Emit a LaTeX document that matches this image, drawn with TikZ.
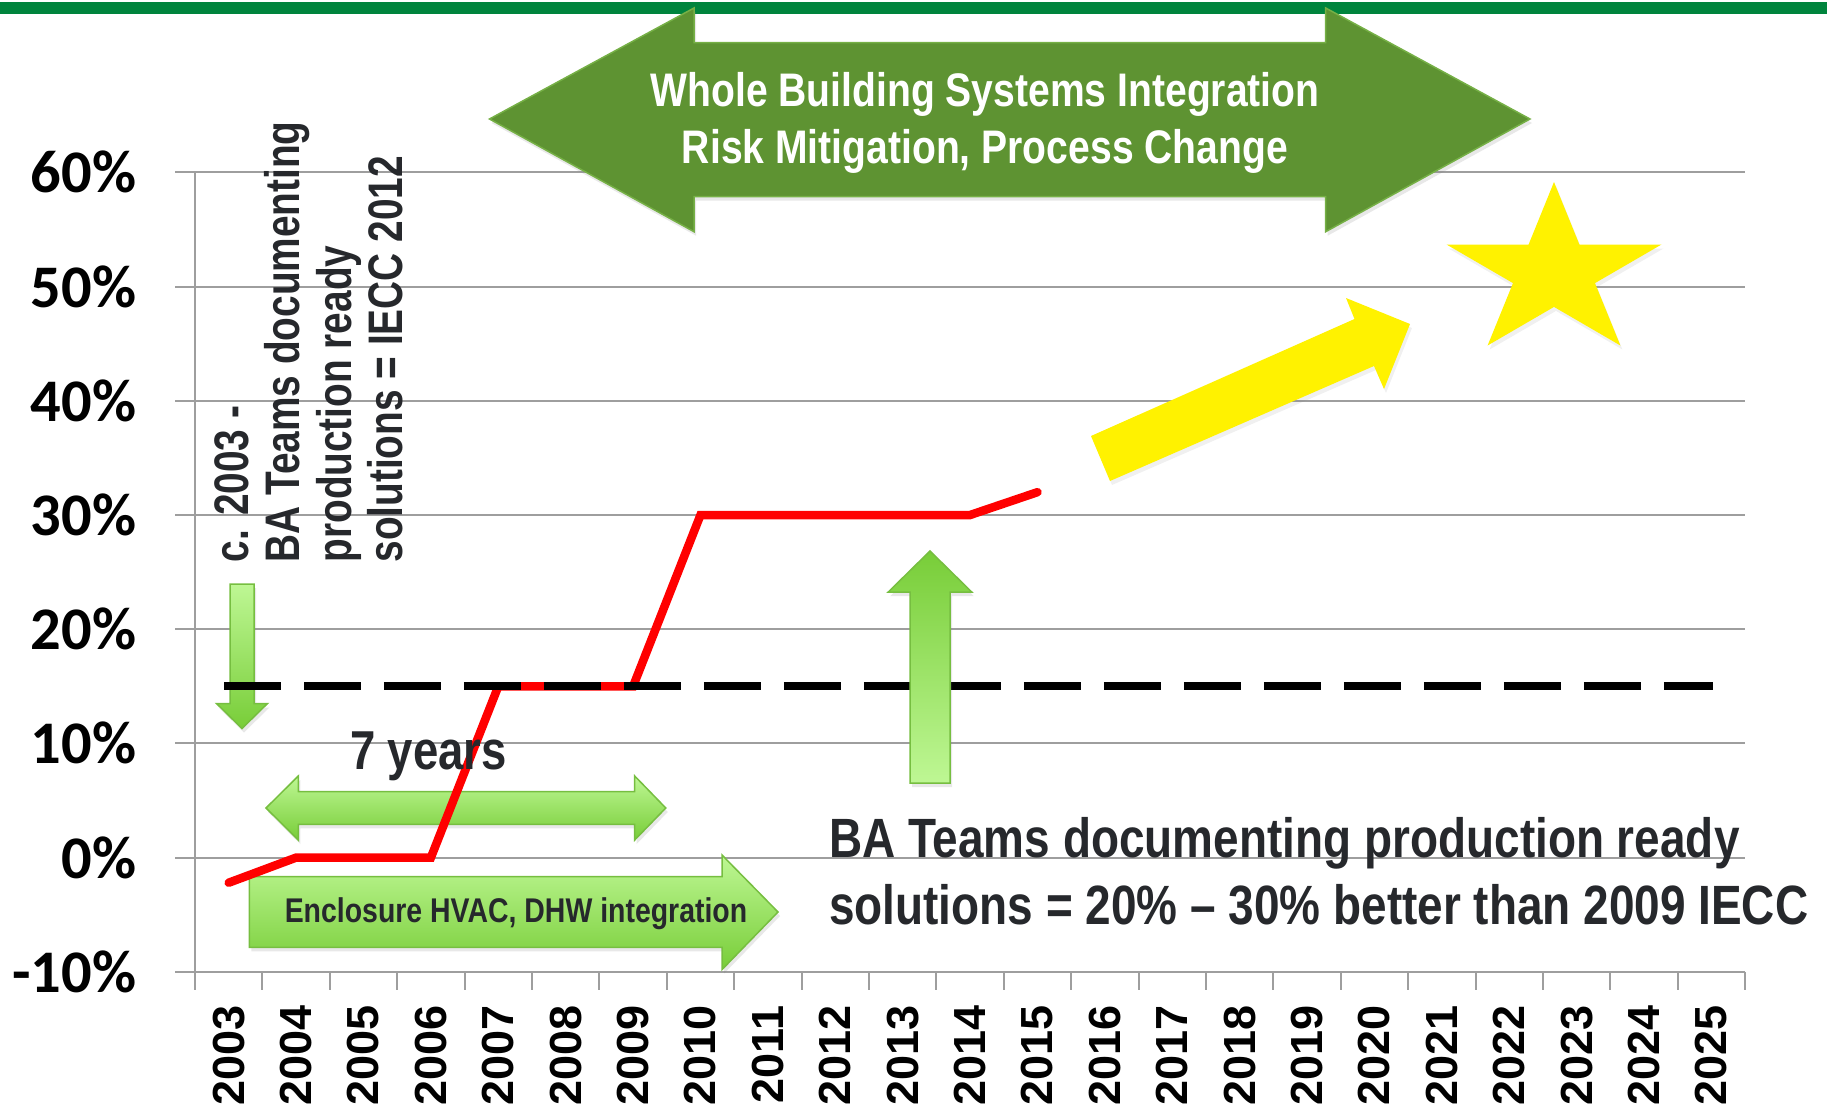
\documentclass[tikz,border=0pt]{standalone}
\usepackage{fontspec}
\setmainfont{Liberation Sans}
\newfontfamily\narrowfont[FakeStretch=0.83]{Liberation Sans}
\newfontfamily\vertfont[FakeStretch=0.8]{Liberation Sans}
\newfontfamily\pctfont{Carlito}
\usetikzlibrary{shadows}

\definecolor{barGreen}{RGB}{0,132,61}
\definecolor{bigGreen}{RGB}{94,147,50}
\definecolor{bigEdge}{RGB}{118,176,70}
\definecolor{lightTop}{RGB}{190,247,148}
\definecolor{lightBottom}{RGB}{120,205,56}
\definecolor{lightEdge}{RGB}{118,190,64}
\definecolor{textGray}{RGB}{38,40,44}
\definecolor{gridGray}{RGB}{158,158,158}

\begin{document}
\begin{tikzpicture}
  [
  x=0.1mm, y=-0.1mm,
  gridline/.style={draw=gridGray, line width=0.2mm},
  pctlabel/.style={anchor=east, inner sep=0pt, text=black, font=\pctfont\bfseries\fontsize{17.2}{20}\selectfont},
  yearlabel/.style={rotate=90, anchor=east, inner sep=0pt, text=black, font=\bfseries\fontsize{12.8}{15}\selectfont},
  trendline/.style={draw=red, line width=0.85mm, line cap=round},
  targetline/.style={draw=black, line width=0.8mm, dash pattern=on 5.7mm off 2.3mm},
  lightarrow/.style={draw=lightEdge, line width=0.15mm, top color=lightTop, bottom color=lightBottom,
    drop shadow={opacity=0.18, shadow xshift=0.2mm, shadow yshift=-0.4mm}},
  bigarrow/.style={draw=bigEdge, line width=0.15mm, fill=bigGreen,
    drop shadow={opacity=0.18, shadow xshift=0.2mm, shadow yshift=-0.4mm}},
  goalshape/.style={fill=yellow, drop shadow={opacity=0.12, shadow xshift=0.2mm, shadow yshift=-0.4mm}},
  note/.style={inner sep=0pt, text=textGray}
  ]
\useasboundingbox (0,0) rectangle (1827,1110);

\fill[barGreen] (0,2) rectangle (1827,14);

\foreach \p [count=\i] in {-10,0,...,60} {
  \draw[gridline] (175,{857.6-11.42*\p}) -- (1745,{857.6-11.42*\p});
  \node[pctlabel] (pct\i) at (137,{857.6-11.42*\p}) {\p\%};
}
\draw[gridline] (195,172.4) -- (195,990);
\foreach \i in {1,...,23} {
  \draw[gridline] ({195+67.4*\i},971.8) -- ({195+67.4*\i},990);
}
\foreach \yr [count=\i from 0] in {2003,...,2025} {
  \node[yearlabel] (yr\yr) at ({195+67.4*(\i+0.5)},1005) {\yr};
}

\draw[lightarrow] (266,808) -- (298.3,776) -- (298.3,791.7) -- (634.7,791.7) -- (634.7,776)
  -- (665.8,808) -- (634.7,840) -- (634.7,824.3) -- (298.3,824.3) -- (298.3,840) -- cycle;
\draw[lightarrow] (249.3,876.7) -- (722,876.7) -- (722,855) -- (778,912) -- (722,969.6)
  -- (722,947.3) -- (249.3,947.3) -- cycle;
\draw[lightarrow] (230,584) -- (254,584) -- (254,703.5) -- (267.5,703.5) -- (242,728.5)
  -- (216.5,703.5) -- (230,703.5) -- cycle;

\foreach \v [count=\i from 0] in {-2.2,0,0,0,15,15,15,30,30,30,30,30,32} {
  \coordinate (r\i) at ({195+67.4*(\i+0.5)},{857.6-11.42*\v});
}
\draw[trendline] (r0) \foreach \i in {1,...,12} {-- (r\i)};

\coordinate (t0) at (224,686.3);
\coordinate (t1) at (1713,686.3);
\draw[targetline] (t0) -- (t1);

\draw[lightarrow, top color=lightBottom, bottom color=lightTop] (930,551) -- (971.7,592) -- (950,592)
  -- (950,783) -- (910,783) -- (910,592) -- (888.3,592) -- cycle;

\draw[bigarrow] (489.5,119) -- (694,8) -- (694,42.7) -- (1325.7,42.7) -- (1325.7,8) -- (1530,119)
  -- (1325.7,231.7) -- (1325.7,196.7) -- (694,196.7) -- (694,231.7) -- cycle;

\fill[goalshape] (1091,436) -- (1354.5,319) -- (1346,298) -- (1410,324) -- (1384,389)
  -- (1374,366) -- (1110,481) -- cycle;
\fill[goalshape] (1554,182) -- (1579.4,244.5) -- (1661.5,244.5) -- (1595,283.1) -- (1620.4,345.5)
  -- (1554,306.9) -- (1487.6,345.5) -- (1513,283.1) -- (1446.5,244.5) -- (1528.6,244.5) -- cycle;

\node[note, text=white, align=center, font=\narrowfont\bfseries\fontsize{13.4}{16.1}\selectfont]
  (wholebuilding) at (985,123.1) {Whole Building Systems Integration\\Risk Mitigation, Process Change};
\node[note, anchor=base, font=\narrowfont\bfseries\fontsize{15.6}{18}\selectfont]
  (sevenyears) at (428.5,769.3) {7 years};
\node[note, anchor=base, font=\narrowfont\bfseries\fontsize{9.75}{12}\selectfont]
  (enclosure) at (516,922.3) {Enclosure HVAC, DHW integration};
\node[note, anchor=north west, align=left, font=\narrowfont\bfseries\fontsize{15.75}{19}\selectfont]
  (production) at (828.4,816.5) {BA Teams documenting production ready\\solutions = 20\% – 30\% better than 2009 IECC};
\node[note, rotate=90, anchor=north west, align=left, font=\vertfont\bfseries\fontsize{13.8}{14.65}\selectfont]
  (since2003) at (213.6,563.2) {c. 2003 -\\BA Teams documenting\\production ready\\solutions = IECC 2012};
\end{tikzpicture}
\end{document}
